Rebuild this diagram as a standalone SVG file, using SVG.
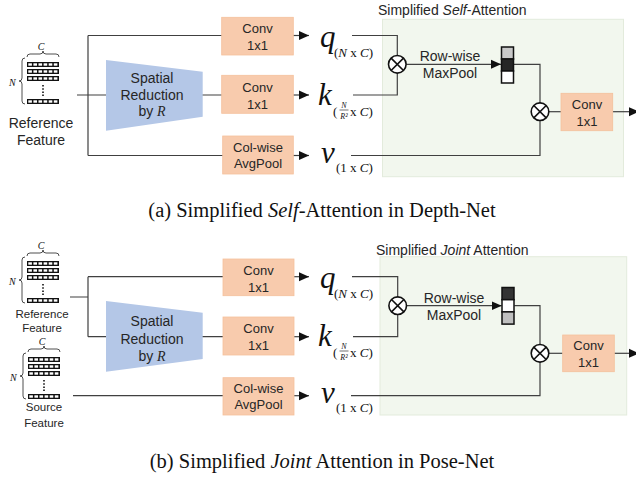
<svg xmlns="http://www.w3.org/2000/svg" width="636" height="486" viewBox="0 0 636 486">
<style>
.ln{fill:none;stroke:#404040;stroke-width:1.2}
.arr{marker-end:url(#ah)}
.box{fill:#f8cbad;stroke:#f4c09c;stroke-width:0.8}
.trap{fill:#b4c7e7;stroke:none}
.zone{fill:#f2f7ee;stroke:#e3ebdc;stroke-width:1}
.t{font-family:"Liberation Sans",Arial,sans-serif;fill:#262626;text-anchor:middle}
.t13{font-size:13px}
.t14{font-size:14px}
.ttl{font-family:"Liberation Sans",Arial,sans-serif;font-size:14px;fill:#262626}
.var{font-family:"Liberation Serif","Times New Roman",serif;font-style:italic;font-size:31px;fill:#111}
.sub{font-family:"Liberation Serif","Times New Roman",serif;font-size:13px;fill:#111}
.frac{font-family:"Liberation Serif","Times New Roman",serif;font-style:italic;font-size:8px;fill:#111}
.cap{font-family:"Liberation Serif","Times New Roman",serif;font-size:20.5px;fill:#111;text-anchor:middle}
.it{font-style:italic}
.mul{fill:#fff;stroke:#111;stroke-width:1.6}
.glab{font-family:"Liberation Serif","Times New Roman",serif;font-style:italic;font-size:10px;fill:#111}
.cell{stroke:#111;stroke-width:1.5}
</style>
<defs>
<marker id="ah" markerUnits="userSpaceOnUse" markerWidth="10" markerHeight="10" viewBox="0 0 9 8" refX="9" refY="4" orient="auto">
<path d="M0,0 L9,4 L0,8 z" fill="#111"/>
</marker>
<g id="row">
<rect x="0" y="0" width="32" height="5" fill="#111"/>
<rect x="1.3" y="1.3" width="3.6" height="2.4" fill="#fff"/>
<rect x="6.4" y="1.3" width="3.6" height="2.4" fill="#fff"/>
<rect x="11.5" y="1.3" width="3.6" height="2.4" fill="#fff"/>
<rect x="16.6" y="1.3" width="3.6" height="2.4" fill="#fff"/>
<rect x="21.7" y="1.3" width="3.6" height="2.4" fill="#fff"/>
<rect x="26.8" y="1.3" width="3.6" height="2.4" fill="#fff"/>
</g>
<g id="feat">
<text class="glab" x="14" y="-12" text-anchor="middle">C</text>
<path d="M0,-5 Q0,-8 3,-8 L13,-8 Q16,-8 16,-11 Q16,-8 19,-8 L29,-8 Q32,-8 32,-5" fill="none" stroke="#222" stroke-width="0.8"/>
<use href="#row" x="0" y="0"/>
<use href="#row" x="0" y="7"/>
<use href="#row" x="0" y="14"/>
<path d="M16,23 V34" stroke="#111" stroke-width="1.6" stroke-dasharray="1.6,1.6" fill="none"/>
<use href="#row" x="0" y="37"/>
<path d="M-2,-4 Q-5,-4 -5,-1 L-5,16 Q-5,19 -8,19 Q-5,19 -5,22 L-5,39 Q-5,42 -2,42" fill="none" stroke="#222" stroke-width="0.8"/>
<text class="glab" x="-18" y="24">N</text>
</g>
<g id="mulsym">
<circle class="mul" cx="0" cy="0" r="8.8"/>
<path d="M-6.2,-6.2 L6.2,6.2 M-6.2,6.2 L6.2,-6.2" stroke="#111" stroke-width="1.6"/>
</g>
</defs>
<rect width="636" height="486" fill="#fff"/>

<!-- ===== (a) ===== -->
<g id="a-zone">
<rect class="zone" x="382.5" y="19.3" width="241" height="157.4"/>
<text class="ttl" x="378" y="15">Simplified <tspan class="it">Self</tspan>-Attention</text>
</g>
<g id="a-connectors">
<path class="ln" d="M77,95 H88 M88,35.5 V155.5 M88,35.5 H222 M88,95 H106 M88,155.5 H223 M202,95 H222"/>
<path class="ln arr" d="M293,35.5 H309"/>
<path class="ln arr" d="M293,95 H309"/>
<path class="ln arr" d="M293,155.5 H309"/>
<path class="ln" d="M352,35.5 H397.3 V55.5"/>
<path class="ln" d="M353,95 H397.3 V73.1"/>
<path class="ln arr" d="M406.1,64.3 H501"/>
<path class="ln" d="M514,64.3 H540 V102.9"/>
<path class="ln" d="M351,155.5 H540 V120.5"/>
<path class="ln" d="M548.8,111.7 H561"/>
<path class="ln arr" d="M612.7,111.7 H639"/>
</g>
<g id="a-ref"><use href="#feat" x="27" y="62"/>
<text class="t t14" x="41" y="128">Reference</text><text class="t t14" x="41" y="145">Feature</text></g>
<g id="a-sr"><path class="trap" d="M106,60 L202.7,71.7 L202.7,116.7 L106,130.7 Z"/>
<text class="t t14" x="152" y="83">Spatial</text><text class="t t14" x="152" y="100">Reduction</text><text class="t t14" x="152" y="116">by <tspan font-family="Liberation Serif,serif" font-style="italic">R</tspan></text></g>
<g id="a-convq"><rect class="box" x="221.7" y="17.3" width="71.6" height="37.7"/>
<text class="t t13" x="257.5" y="33">Conv</text><text class="t t13" x="257.5" y="50">1x1</text></g>
<g id="a-convk"><rect class="box" x="221.7" y="75.3" width="71.6" height="38"/>
<text class="t t13" x="257.5" y="91.5">Conv</text><text class="t t13" x="257.5" y="108.5">1x1</text></g>
<g id="a-pool"><rect class="box" x="222.7" y="136" width="70.6" height="38"/>
<text class="t t13" x="258" y="151.5">Col-wise</text><text class="t t13" x="258" y="167.5">AvgPool</text></g>
<g id="a-q"><text class="var" x="320" y="47">q</text><text class="sub" x="334" y="57">(<tspan class="it">N</tspan> x <tspan class="it">C</tspan>)</text></g>
<g id="a-k"><text class="var" x="318" y="105">k</text>
<text class="sub" x="333" y="116" font-size="15">(</text><text class="frac" x="344" y="108" text-anchor="middle">N</text><path d="M339.5,110 H348.5" stroke="#111" stroke-width="0.6"/><text class="frac" x="344" y="118.5" text-anchor="middle">R²</text>
<text class="sub" x="350" y="116"> x <tspan class="it">C</tspan>)</text></g>
<g id="a-v"><text class="var" x="321" y="163">v</text><text class="sub" x="336" y="172">(1 x <tspan class="it">C</tspan>)</text></g>
<g id="a-mul1"><use href="#mulsym" x="397.3" y="64.3"/></g>
<g id="a-rw"><text class="t t14" x="450" y="61">Row-wise</text><text class="t t14" x="450" y="78">MaxPool</text></g>
<g id="a-bar"><rect class="cell" x="501.5" y="47" width="12" height="12" fill="#c8c8c8"/><rect class="cell" x="501.5" y="59" width="12" height="12" fill="#262626"/><rect class="cell" x="501.5" y="71" width="12" height="12" fill="#fff"/></g>
<g id="a-mul2"><use href="#mulsym" x="540" y="111.7"/></g>
<g id="a-convo"><rect class="box" x="561" y="93.3" width="51.7" height="37.4"/>
<text class="t t13" x="587" y="108.5">Conv</text><text class="t t13" x="587" y="126">1x1</text></g>
<text class="cap" x="322" y="217">(a) Simplified <tspan class="it">Self</tspan>-Attention in Depth-Net</text>

<!-- ===== (b) ===== -->
<g id="b-zone">
<rect class="zone" x="380" y="256.7" width="246.7" height="158.3"/>
<text class="ttl" x="376" y="255">Simplified <tspan class="it">Joint</tspan> Attention</text>
</g>
<g id="b-connectors">
<path class="ln" d="M70,297 H88 M88,276.7 V336.7 M88,276.7 H223 M88,336.7 H106 M73,395.7 H223 M202,336.7 H223"/>
<path class="ln arr" d="M294,276.7 H309"/>
<path class="ln arr" d="M294,336.7 H309"/>
<path class="ln arr" d="M294,395.7 H309"/>
<path class="ln" d="M352,276.7 H397.7 V296.9"/>
<path class="ln" d="M353,336.7 H397.7 V314.5"/>
<path class="ln arr" d="M406.5,305.7 H501.7"/>
<path class="ln" d="M514.3,305.7 H540 V344.5"/>
<path class="ln" d="M351,395.7 H540 V362.1"/>
<path class="ln" d="M548.8,353.3 H562.7"/>
<path class="ln arr" d="M614.3,353.3 H639"/>
</g>
<g id="b-ref"><use href="#feat" x="27" y="261"/>
<text class="t" font-size="11.5" x="42" y="318">Reference</text><text class="t" font-size="11.5" x="42" y="332">Feature</text></g>
<g id="b-src"><use href="#feat" x="28" y="357"/>
<text class="t" font-size="11.5" x="44" y="411">Source</text><text class="t" font-size="11.5" x="44" y="427">Feature</text></g>
<g id="b-sr"><path class="trap" d="M106,301 L202.7,312.7 L202.7,359 L106,371.7 Z"/>
<text class="t t14" x="152" y="326">Spatial</text><text class="t t14" x="152" y="344">Reduction</text><text class="t t14" x="152" y="361">by <tspan font-family="Liberation Serif,serif" font-style="italic">R</tspan></text></g>
<g id="b-convq"><rect class="box" x="223" y="259" width="71" height="36.7"/>
<text class="t t13" x="258.5" y="274.5">Conv</text><text class="t t13" x="258.5" y="291.5">1x1</text></g>
<g id="b-convk"><rect class="box" x="223" y="317" width="71" height="38"/>
<text class="t t13" x="258.5" y="333">Conv</text><text class="t t13" x="258.5" y="350">1x1</text></g>
<g id="b-pool"><rect class="box" x="223" y="377.7" width="71" height="37.3"/>
<text class="t t13" x="258.5" y="393">Col-wise</text><text class="t t13" x="258.5" y="409">AvgPool</text></g>
<g id="b-q"><text class="var" x="320" y="288">q</text><text class="sub" x="334" y="298">(<tspan class="it">N</tspan> x <tspan class="it">C</tspan>)</text></g>
<g id="b-k"><text class="var" x="318" y="346">k</text>
<text class="sub" x="333" y="357" font-size="15">(</text><text class="frac" x="344" y="349" text-anchor="middle">N</text><path d="M339.5,351 H348.5" stroke="#111" stroke-width="0.6"/><text class="frac" x="344" y="359.5" text-anchor="middle">R²</text>
<text class="sub" x="350" y="357"> x <tspan class="it">C</tspan>)</text></g>
<g id="b-v"><text class="var" x="321" y="403">v</text><text class="sub" x="336" y="412">(1 x <tspan class="it">C</tspan>)</text></g>
<g id="b-mul1"><use href="#mulsym" x="397.7" y="305.7"/></g>
<g id="b-rw"><text class="t t14" x="454" y="303">Row-wise</text><text class="t t14" x="454" y="320">MaxPool</text></g>
<g id="b-bar"><rect class="cell" x="502" y="287.5" width="12" height="12.2" fill="#333"/><rect class="cell" x="502" y="299.7" width="12" height="12.2" fill="#fff"/><rect class="cell" x="502" y="311.9" width="12" height="12.2" fill="#bfbfbf"/></g>
<g id="b-mul2"><use href="#mulsym" x="540" y="353.3"/></g>
<g id="b-convo"><rect class="box" x="562.7" y="335" width="51.6" height="36.7"/>
<text class="t t13" x="588.5" y="350">Conv</text><text class="t t13" x="588.5" y="367">1x1</text></g>
<text class="cap" x="322" y="468">(b) Simplified <tspan class="it">Joint</tspan> Attention in Pose-Net</text>
</svg>
